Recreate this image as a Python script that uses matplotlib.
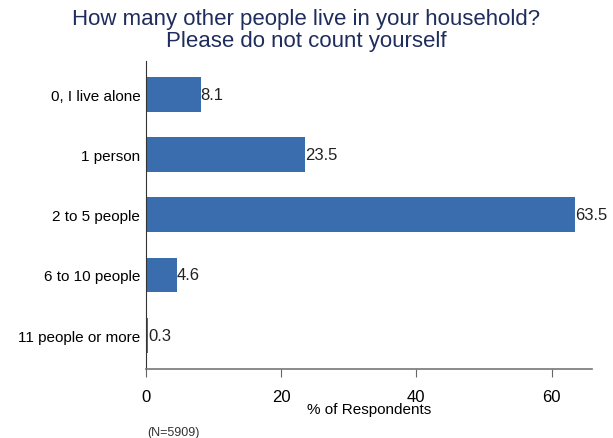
import matplotlib
matplotlib.use('Agg')
import matplotlib.pyplot as plt

plt.rcParams['font.family'] = ['Liberation Sans', 'DejaVu Sans']

categories = ['0, I live alone', '1 person', '2 to 5 people', '6 to 10 people', '11 people or more']
values = [8.1, 23.5, 63.5, 4.6, 0.3]
xticks = [0, 20, 40, 60]

bar_color = '#3a6dae'

fig = plt.figure(figsize=(6.13, 4.39), dpi=100)
ax = fig.add_axes([0.238, 0.157, 0.728, 0.702])

ypos = list(range(len(categories)))
ax.barh(ypos, values, height=0.58, color=bar_color)
for y, v in zip(ypos, values):
    ax.text(v, y, '%.1f' % v, va='center', ha='left', fontsize=12, color='#222222')

ax.set_ylim(len(categories) - 1 + 0.56, -0.55)
ax.set_xlim(0, 66)
ax.set_yticks(ypos)
ax.set_yticklabels(categories, fontsize=11)
ax.set_xticks(xticks)
ax.set_xticklabels([str(t) for t in xticks], fontsize=12)
ax.tick_params(axis='y', length=0, pad=4)
ax.tick_params(axis='x', length=6, color='#666666', pad=8)

for s in ['top', 'right']:
    ax.spines[s].set_visible(False)
ax.spines['left'].set_color('#333333')
ax.spines['bottom'].set_color('#777777')
ax.spines['bottom'].set_linewidth(1.2)

ax.set_xlabel('% of Respondents', fontsize=11, labelpad=-1)

fig.suptitle('How many other people live in your household?\nPlease do not count yourself',
             fontsize=16, color='#1f2d5c', y=0.98, linespacing=1.05)
fig.text(0.24, 0.006, '(N=5909)', fontsize=9, color='#333333')

fig.savefig('out.png', dpi=100)
